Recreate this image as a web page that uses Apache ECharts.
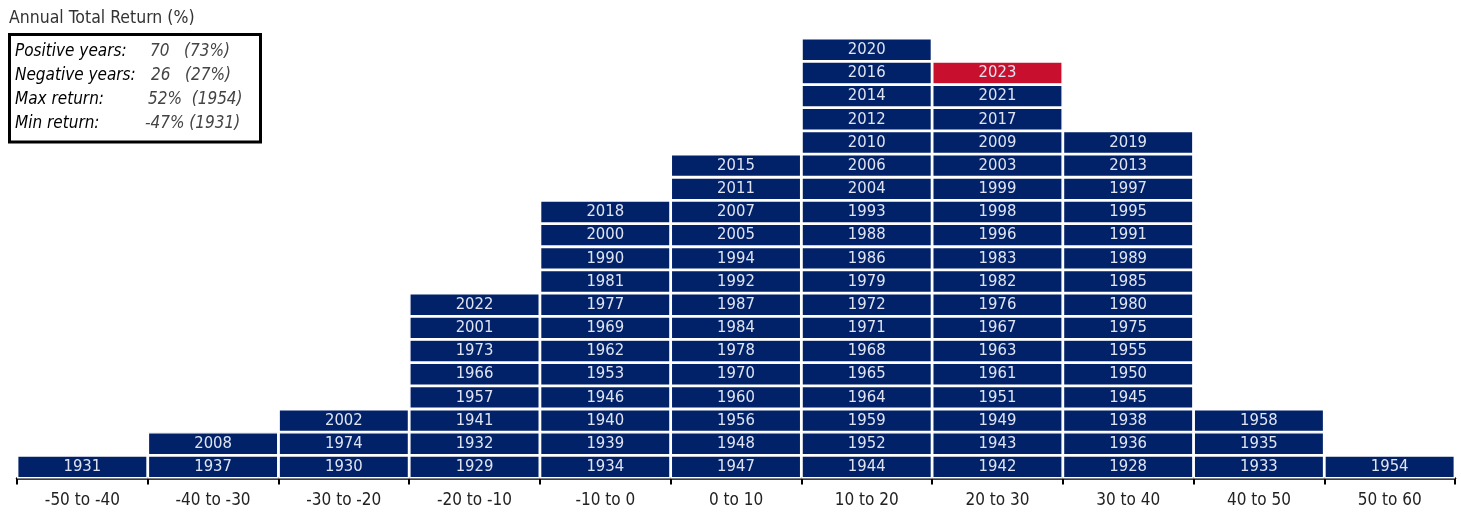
<!DOCTYPE html>
<html><head><meta charset="utf-8">
<script src="https://cdn.jsdelivr.net/npm/echarts@6/dist/echarts.min.js"></script>
<style>html,body{margin:0;padding:0;background:#fff}#c{width:1461px;height:514px}</style>
</head><body><div id="c"></div>
<script>
const categories = ['-50 to -40','-40 to -30','-30 to -20','-20 to -10','-10 to 0','0 to 10','10 to 20','20 to 30','30 to 40','40 to 50','50 to 60'];
// years in each bin, bottom to top
const binM50 = [1931];
const binM40 = [1937, 2008];
const binM30 = [1930, 1974, 2002];
const binM20 = [1929, 1932, 1941, 1957, 1966, 1973, 2001, 2022];
const binM10 = [1934, 1939, 1940, 1946, 1953, 1962, 1969, 1977, 1981, 1990, 2000, 2018];
const bin0 = [1947, 1948, 1956, 1960, 1970, 1978, 1984, 1987, 1992, 1994, 2005, 2007, 2011, 2015];
const bin10 = [1944, 1952, 1959, 1964, 1965, 1968, 1971, 1972, 1979, 1986, 1988, 1993, 2004, 2006, 2010, 2012, 2014, 2016, 2020];
const bin20 = [1942, 1943, 1949, 1951, 1961, 1963, 1967, 1976, 1982, 1983, 1996, 1998, 1999, 2003, 2009, 2017, 2021, 2023];
const bin30 = [1928, 1936, 1938, 1945, 1950, 1955, 1975, 1980, 1985, 1989, 1991, 1995, 1997, 2013, 2019];
const bin40 = [1933, 1935, 1958];
const bin50 = [1954];
const highlightYear = 2023;
const statLabels = ['Positive years:', 'Negative years:', 'Max return:', 'Min return:'];
const statValues = ['70   (73%)', '26   (27%)', '52%  (1954)', '-47% (1931)'];
const statValueX = [150, 151, 148, 145];

const bins = [binM50, binM40, binM30, binM20, binM10, bin0, bin10, bin20, bin30, bin40, bin50];
const maxRows = Math.max(...bins.map(b => b.length));
const NAVY = '#012169', RED = '#C8102E';
const FONT = "'Liberation Sans Narrow','DejaVu Sans Condensed',sans-serif";

const series = [];
for (let r = 0; r < maxRows; r++) {
  series.push({
    type: 'bar', stack: 'h', barCategoryGap: 0, animation: false,
    data: bins.map(b => r < b.length ? {
      value: 1, year: b[r],
      itemStyle: { color: b[r] === highlightYear ? RED : NAVY }
    } : '-'),
    itemStyle: { color: NAVY, borderColor: '#fff', borderWidth: 1.4 },
    label: {
      show: true, position: 'inside', color: '#dfe4f0', fontFamily: FONT, fontSize: 16.5,
      formatter: p => p.data.year
    }
  });
}

const graphics = [
  { type: 'text', left: 9, top: 9, style: { text: 'Annual Total Return (%)', font: "17.5px " + FONT, fill: '#333' } },
  { type: 'rect', shape: { x: 9.5, y: 34.5, width: 251, height: 107.5 }, style: { fill: 'none', stroke: '#000', lineWidth: 3 } }
];
statLabels.forEach((t, i) => {
  graphics.push({ type: 'text', x: 15, y: 52 + i * 24, style: { text: t, font: "italic 17px " + FONT, fill: '#000', textVerticalAlign: 'middle' } });
  graphics.push({ type: 'text', x: statValueX[i], y: 52 + i * 24, style: { text: statValues[i], font: "italic 17px " + FONT, fill: '#444', textVerticalAlign: 'middle' } });
});

const chart = echarts.init(document.getElementById('c'), null, { renderer: 'canvas' });
chart.setOption({
  animation: false,
  grid: { left: 17, right: 6, bottom: 35.5, top: 15, containLabel: false },
  xAxis: {
    type: 'category', data: categories,
    axisLine: { lineStyle: { color: '#000', width: 2.5 } },
    axisTick: { show: true, length: 6, lineStyle: { color: '#000', width: 2 } },
    axisLabel: { color: '#222', fontFamily: FONT, fontSize: 17, margin: 14 }
  },
  yAxis: { type: 'value', min: 0, max: 20, show: false, splitLine: { show: false } },
  series: series,
  graphic: graphics
});
</script></body></html>
